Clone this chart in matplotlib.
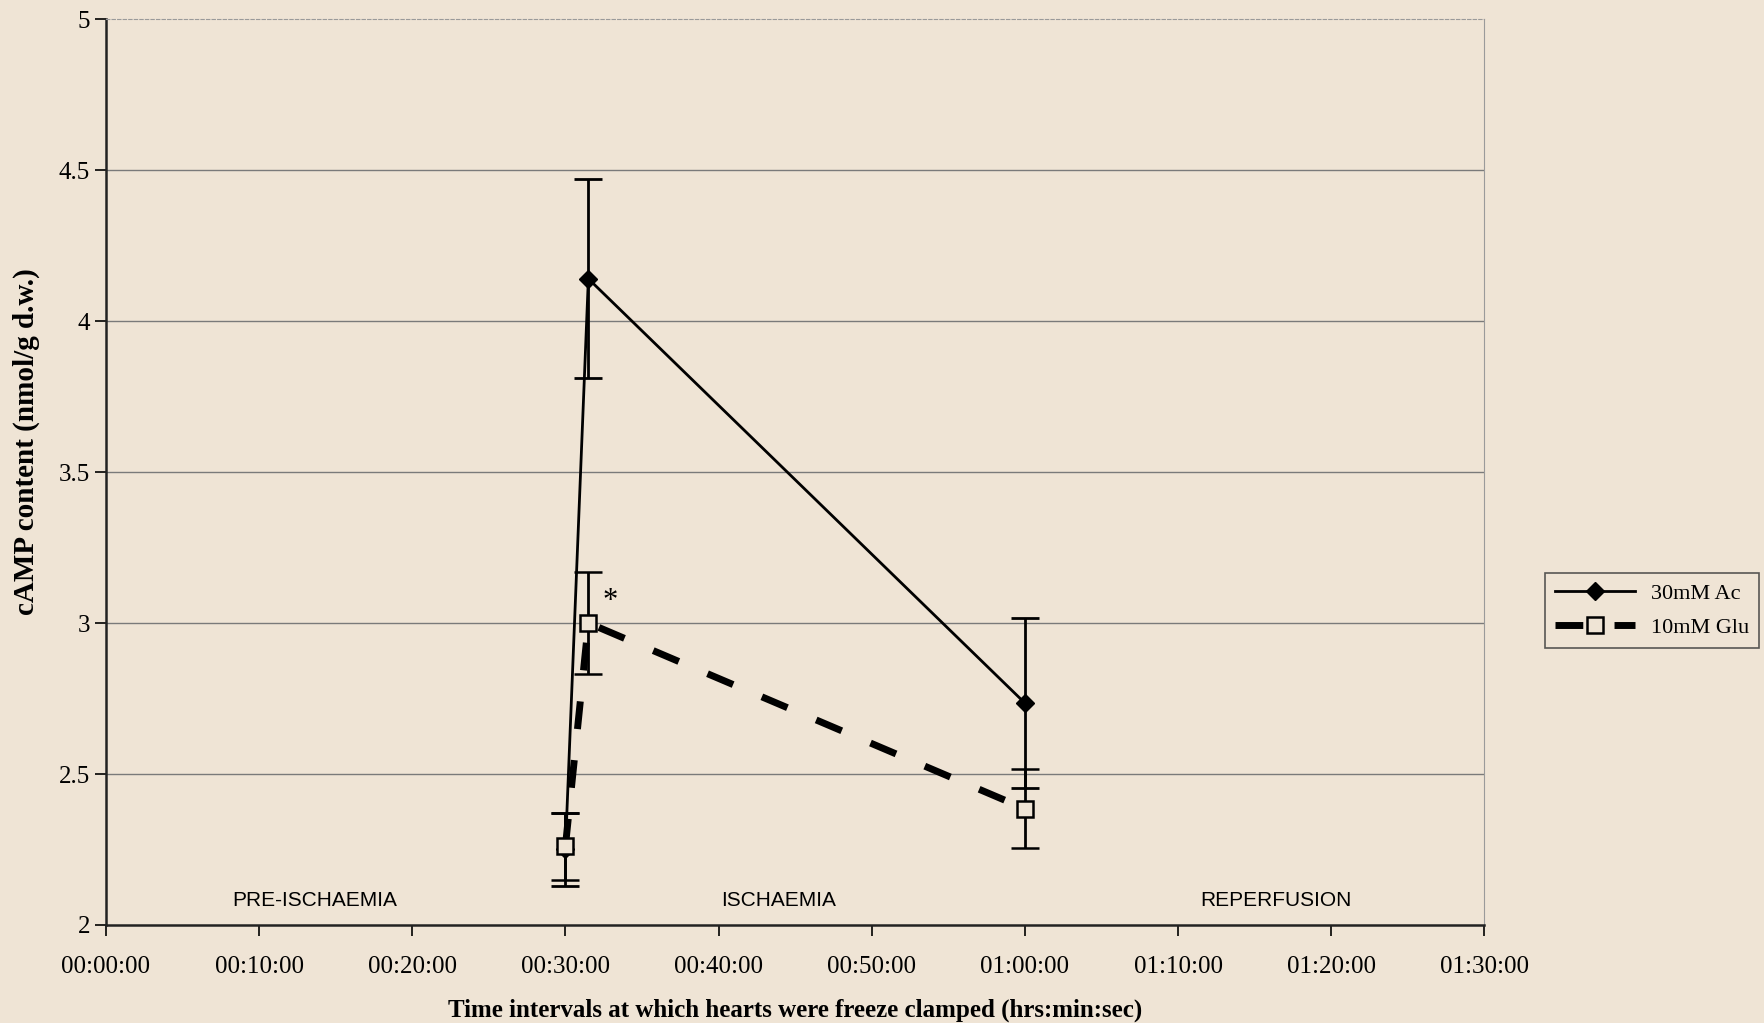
import matplotlib
matplotlib.use("Agg")
import matplotlib.pyplot as plt
from matplotlib.lines import Line2D

# time in minutes after start of perfusion
TIME_MIN = [30, 31.5, 60]
AC_MEAN = [2.25, 4.14, 2.735]
AC_ERR = [0.12, 0.33, 0.28]
GLU_MEAN = [2.26, 3.00, 2.385]
GLU_ERR = [0.11, 0.17, 0.13]

XTICKS = [0, 10, 20, 30, 40, 50, 60, 70, 80, 90]
XTICK_LABELS = ["00:00:00", "00:10:00", "00:20:00", "00:30:00", "00:40:00",
                "00:50:00", "01:00:00", "01:10:00", "01:20:00", "01:30:00"]
YTICKS = [2, 2.5, 3, 3.5, 4, 4.5, 5]
YTICK_LABELS = ["2", "2.5", "3", "3.5", "4", "4.5", "5"]

PHASES = ["PRE-ISCHAEMIA", "ISCHAEMIA", "REPERFUSION"]
PHASE_X = [13.6, 43.9, 76.4]

BG = "#efe4d5"
SERIF = "Liberation Serif"
GLU_DASH = (0, (4, 4.5))

fig = plt.figure(figsize=(17.65, 10.23), dpi=100, facecolor=BG)
ax = fig.add_axes([0.060, 0.0958, 0.781, 0.8856], facecolor=BG)

ax.set_xlim(0, 90)
ax.set_ylim(2, 5)

for y in YTICKS[1:-1]:
    ax.axhline(y, color="#7a7a7a", lw=1.0, zorder=0)

ax.errorbar(TIME_MIN, AC_MEAN, yerr=AC_ERR, color="black", lw=2.0,
            marker="D", markersize=9, markerfacecolor="black",
            ecolor="black", elinewidth=2.0, capsize=10, capthick=2.0, zorder=3)
ax.errorbar(TIME_MIN, GLU_MEAN, yerr=GLU_ERR, color="black", lw=5,
            linestyle=GLU_DASH, marker="s", markersize=11,
            markerfacecolor=BG, markeredgecolor="black", markeredgewidth=1.8,
            ecolor="black", elinewidth=2.0, capsize=10, capthick=2.0, zorder=4)

ax.text(32.9, 3.07, "*", fontsize=22, family=SERIF, ha="center", va="center")

for name, x in zip(PHASES, PHASE_X):
    ax.text(x, 2.08, name, fontsize=15, family="Liberation Sans",
            ha="center", va="center")

ax.set_xticks(XTICKS)
ax.set_xticklabels(XTICK_LABELS, fontsize=18, family=SERIF)
ax.set_yticks(YTICKS)
ax.set_yticklabels(YTICK_LABELS, fontsize=18, family=SERIF)
ax.tick_params(axis="both", direction="out", length=8, width=1.2, colors="black")
ax.tick_params(axis="x", pad=14)

for side in ["left", "bottom"]:
    ax.spines[side].set_color("#222222")
    ax.spines[side].set_linewidth(1.8)
ax.spines["top"].set_color("#9a9a9a")
ax.spines["top"].set_linestyle((0, (3, 2)))
ax.spines["right"].set_color("#9a9a9a")

ax.set_xlabel("Time intervals at which hearts were freeze clamped (hrs:min:sec)",
              fontsize=18, family=SERIF, fontweight="bold", labelpad=15)
ax.set_ylabel("cAMP content (nmol/g d.w.)", fontsize=21, family=SERIF,
              fontweight="bold")
ax.yaxis.set_label_coords(-0.048, 0.533)

handles = [
    Line2D([], [], color="black", lw=2.0, marker="D", markersize=9,
           markerfacecolor="black"),
    Line2D([], [], color="black", lw=5, linestyle=GLU_DASH, marker="s",
           markersize=11, markerfacecolor=BG, markeredgecolor="black",
           markeredgewidth=1.8),
]
leg = ax.legend(handles, ["30mM Ac", "10mM Glu"], loc="center left",
                bbox_to_anchor=(1.044, 0.347), borderaxespad=0,
                prop={"family": SERIF, "size": 16}, frameon=True,
                fancybox=False, edgecolor="#333333", facecolor=BG,
                handlelength=3.6, handletextpad=0.7, borderpad=0.45,
                labelspacing=0.6)
leg.get_frame().set_linewidth(1.2)

fig.savefig("out.png", dpi=100, facecolor=BG)
